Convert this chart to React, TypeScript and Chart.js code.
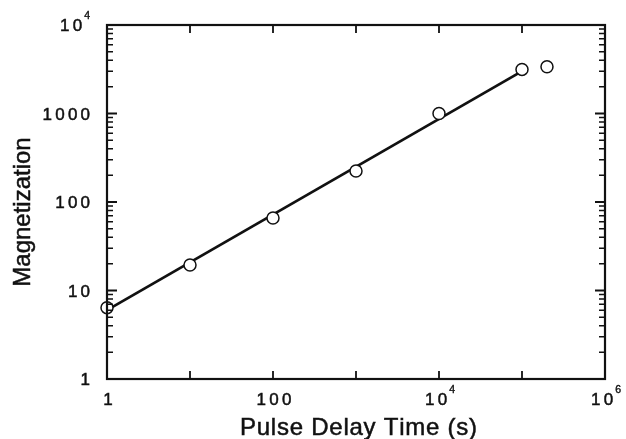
import React, { useEffect, useRef } from "react";
import { Chart, registerables } from "chart.js";

Chart.register(...registerables);

// ---- data ----
const delayTimes = [1, 10, 100, 1000, 10000, 100000, 200000];
const magnetization = [6.4, 19.4, 66, 224, 1000, 3150, 3380];
const fitTimes = [1, 90000];
const fitMagnetization = [6.0, 2840];

const xMajorTicks = [1, 10, 100, 1000, 1e4, 1e5, 1e6];
const xLabelValues = [1, 100, 1e4, 1e6];
const xLabelBase = ["1", "100", "10", "10"];
const xLabelExp = ["", "", "4", "6"];

const yMajorTicks = [1, 10, 100, 1000, 1e4];
const yLabelBase = ["1", "10", "100", "1000", "10"];
const yLabelExp = ["", "", "", "", "4"];
const yMinorMultipliers = [2, 3, 4, 5, 6, 7, 8, 9];

const xTitle = "Pulse Delay Time (s)";
const yTitle = "Magnetization";

const FONT = "'Liberation Sans', Arial, Helvetica, sans-serif";
const INK = "#111";

function spacedWidth(ctx: CanvasRenderingContext2D, s: string, sp: number) {
  let w = 0;
  for (const ch of s) w += ctx.measureText(ch).width;
  return w + sp * Math.max(0, s.length - 1);
}

function drawSpaced(ctx: CanvasRenderingContext2D, s: string, x: number, y: number, sp: number, stroke = 0.5) {
  let cx = x;
  ctx.lineWidth = stroke;
  for (const ch of s) {
    ctx.fillText(ch, cx, y);
    if (stroke > 0) ctx.strokeText(ch, cx, y);
    cx += ctx.measureText(ch).width + sp;
  }
}

function drawTickLabel(
  ctx: CanvasRenderingContext2D,
  base: string,
  exp: string,
  x: number,
  cy: number,
  align: "right" | "center"
) {
  const sp = 3.2;
  ctx.font = `17px ${FONT}`;
  const wb = spacedWidth(ctx, base, sp);
  ctx.font = `10.5px ${FONT}`;
  const we = exp ? ctx.measureText(exp).width + 2 : 0;
  const total = wb + we;
  const x0 = align === "right" ? x - total : x - total / 2;
  const baseline = cy + 6;
  ctx.textAlign = "left";
  ctx.textBaseline = "alphabetic";
  ctx.font = `17px ${FONT}`;
  drawSpaced(ctx, base, x0, baseline, sp, 0.5);
  if (exp) {
    ctx.font = `10.5px ${FONT}`;
    drawSpaced(ctx, exp, x0 + wb + 2, baseline - 12, 0, 0.4);
  }
}

const axesPlugin = {
  id: "paperAxes",
  afterDatasetsDraw(chart: any) {
    const { ctx, chartArea } = chart;
    const xs = chart.scales.x;
    const ys = chart.scales.y;
    const { left, right, top, bottom } = chartArea;
    ctx.save();
    ctx.strokeStyle = INK;
    ctx.fillStyle = INK;

    // frame
    ctx.lineWidth = 2.2;
    ctx.strokeRect(left, top, right - left, bottom - top);

    // x major ticks (top and bottom, inward)
    ctx.lineWidth = 1.8;
    ctx.beginPath();
    for (const v of xMajorTicks) {
      const px = xs.getPixelForValue(v);
      ctx.moveTo(px, bottom);
      ctx.lineTo(px, bottom - 8);
      ctx.moveTo(px, top);
      ctx.lineTo(px, top + 8);
    }
    // y major ticks
    for (const v of yMajorTicks) {
      const py = ys.getPixelForValue(v);
      ctx.moveTo(left, py);
      ctx.lineTo(left + 10, py);
      ctx.moveTo(right, py);
      ctx.lineTo(right - 10, py);
    }
    ctx.stroke();
    // y minor ticks
    ctx.lineWidth = 1.5;
    ctx.beginPath();
    for (let i = 0; i < yMajorTicks.length - 1; i++) {
      for (const m of yMinorMultipliers) {
        const py = ys.getPixelForValue(yMajorTicks[i] * m);
        ctx.moveTo(left, py);
        ctx.lineTo(left + 6, py);
        ctx.moveTo(right, py);
        ctx.lineTo(right - 6, py);
      }
    }
    ctx.stroke();

    // tick labels
    yMajorTicks.forEach((v, i) => {
      drawTickLabel(ctx, yLabelBase[i], yLabelExp[i], left - 17, ys.getPixelForValue(v), "right");
    });
    xLabelValues.forEach((v, i) => {
      drawTickLabel(ctx, xLabelBase[i], xLabelExp[i], xs.getPixelForValue(v) + 1, bottom + 20, "center");
    });

    // axis titles
    ctx.font = `24px ${FONT}`;
    ctx.textBaseline = "alphabetic";
    ctx.textAlign = "left";
    const tw = spacedWidth(ctx, xTitle, 0.75);
    drawSpaced(ctx, xTitle, 358.5 - tw / 2, bottom + 56, 0.75, 0.5);

    ctx.save();
    ctx.translate(30, (top + bottom) / 2 + 10);
    ctx.rotate(-Math.PI / 2);
    ctx.textAlign = "center";
    ctx.lineWidth = 0.5;
    ctx.fillText(yTitle, 0, 0);
    ctx.strokeText(yTitle, 0, 0);
    ctx.restore();

    ctx.restore();
  },
};

export default function App() {
  const ref = useRef<HTMLCanvasElement | null>(null);
  useEffect(() => {
    if (!ref.current) return;
    const chart = new Chart(ref.current, {
      type: "scatter",
      data: {
        datasets: [
          {
            label: "measured",
            data: delayTimes.map((t, i) => ({ x: t, y: magnetization[i] })),
            showLine: false,
            pointRadius: 6,
            pointHoverRadius: 6,
            pointBorderWidth: 1.5,
            pointBorderColor: INK,
            pointBackgroundColor: "#fff",
            clip: false as any,
          },
          {
            label: "fit",
            data: fitTimes.map((t, i) => ({ x: t, y: fitMagnetization[i] })),
            showLine: true,
            borderColor: INK,
            borderWidth: 2.8,
            pointRadius: 0,
            clip: false as any,
          },
        ],
      },
      options: {
        responsive: false,
        animation: false,
        events: [],
        layout: { padding: { left: 107, right: 21, top: 25, bottom: 60 } },
        plugins: { legend: { display: false }, tooltip: { enabled: false } },
        scales: {
          x: { type: "logarithmic", min: 1, max: 1e6, display: false },
          y: { type: "logarithmic", min: 1, max: 1e4, display: false },
        },
      },
      plugins: [axesPlugin],
    });
    return () => chart.destroy();
  }, []);
  return (
    <div style={{ position: "absolute", left: 0, top: 0, width: 626, height: 439, background: "#fff" }}>
      <canvas ref={ref} width={626} height={439} style={{ display: "block" }} />
    </div>
  );
}
